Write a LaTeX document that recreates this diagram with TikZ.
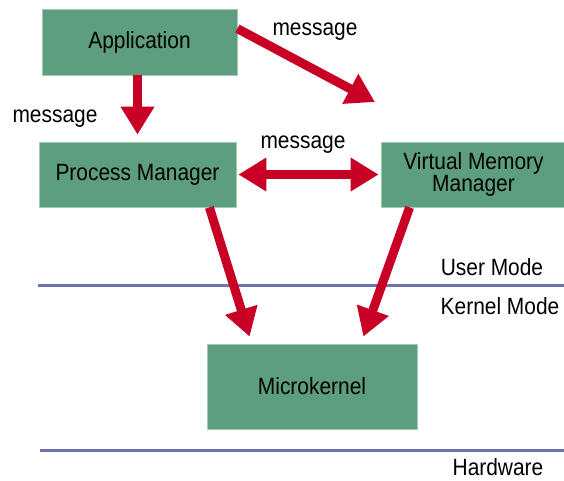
\documentclass[tikz,border=0pt]{standalone}
\usepackage{fontspec}
\setmainfont{Liberation Sans}[FakeStretch=0.89]
\usetikzlibrary{arrows.meta}
\definecolor{boxgreen}{RGB}{92,158,126}
\definecolor{boxedge}{RGB}{160,205,180}
\definecolor{arrowred}{RGB}{200,0,38}
\definecolor{lineblue}{RGB}{110,118,175}
\begin{document}
\begin{tikzpicture}[x=1pt,y=-1pt,
  box/.style={rectangle, fill=boxgreen, draw=boxedge, line width=0.8pt, inner sep=0pt,
    font=\fontsize{23.5}{20}\selectfont},
  lbl/.style={font=\fontsize{23.5}{20}\selectfont, inner sep=0pt, anchor=base},
  arr/.style={draw=arrowred, line width=9pt, -{Triangle[length=28pt,width=32pt]}},
  dbl/.style={draw=arrowred, line width=9pt, {Triangle[length=28pt,width=32pt]}-{Triangle[length=28pt,width=32pt]}},
  sep/.style={draw=lineblue, line width=3pt}]
\fill[white] (0,0) rectangle (564,480);
\useasboundingbox (0,0) rectangle (564,480);
% separator lines
\draw[sep] (38,285) -- (566,285);
\draw[sep] (40,450) -- (566,450);
% boxes
\node[box, minimum width=195pt, minimum height=66pt] (app) at (139.5,42) {Application\hspace{18pt}};
\node[box, minimum width=197pt, minimum height=65pt] (pm) at (137.5,174.5) {Process Manager\hspace{13pt}};
\node[box, minimum width=185pt, minimum height=65pt, align=center] (vmm) at (473.5,174.5) {Virtual Memory\hspace{12pt}\\Manager};
\node[box, minimum width=210pt, minimum height=85pt] (mk) at (312,386.5) {Microkernel\hspace{8pt}};
% labels
\node[lbl] (m1) at (315,35) {message};
\node[lbl] (m2) at (55,122) {message};
\node[lbl] (m3) at (303,148) {message};
\node[lbl] (um) at (492,275) {User Mode};
\node[lbl] (km) at (500,314) {Kernel Mode};
\node[lbl] (hw) at (498,475) {Hardware};
% connectors
\coordinate (vtip) at (375,102);
\draw[arr] (app.south -| pm.north) -- ([yshift=7pt]pm.north);
\draw[arr] ([yshift=-20pt]app.north east) -- (vtip);
\draw[dbl] ([xshift=2pt]pm.east) -- ([xshift=-2pt]vmm.west);
\draw[arr] ([xshift=-27pt]pm.south east) -- ([xshift=43pt,yshift=7pt]mk.north west);
\draw[arr] ([xshift=29pt]vmm.south west) -- ([xshift=-54pt,yshift=7pt]mk.north east);
\end{tikzpicture}
\end{document}
